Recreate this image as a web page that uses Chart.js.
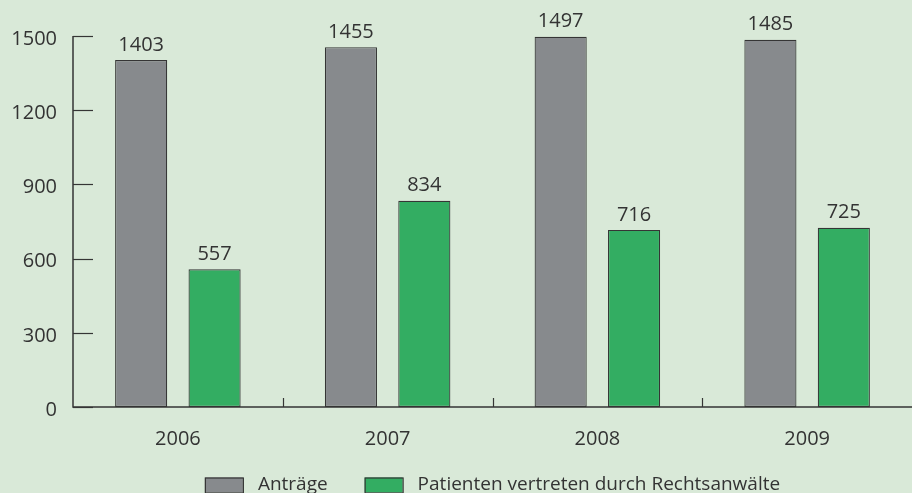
<!DOCTYPE html>
<html>
<head>
<meta charset="utf-8">
<script src="https://cdn.jsdelivr.net/npm/chart.js@4.4.1/dist/chart.umd.min.js"></script>
<style>
  html, body { margin: 0; padding: 0; background: #d9e9d8; }
  #wrap { width: 912px; height: 493px; position: relative; }
</style>
</head>
<body>
<div id="wrap"><canvas id="c" width="912" height="493"></canvas></div>
<script>
const categories = ['2006', '2007', '2008', '2009'];
const antraege = [1403, 1455, 1497, 1485];
const patienten = [557, 834, 716, 725];
const seriesNames = ['Anträge', 'Patienten vertreten durch Rechtsanwälte'];
const yTicks = [0, 300, 600, 900, 1200, 1500];

const FONT = '"Open Sans", "Noto Sans", sans-serif';
const TEXT = '#333333';
const LINE = '#353535';

const customDraw = {
  id: 'customDraw',
  afterDatasetsDraw(chart) {
    const ctx = chart.ctx;
    const ca = chart.chartArea;
    const x = chart.scales.x, y = chart.scales.y;
    ctx.save();
    ctx.strokeStyle = LINE;
    ctx.lineWidth = 1.5;
    // axes
    ctx.beginPath();
    ctx.moveTo(ca.left, ca.top);
    ctx.lineTo(ca.left, ca.bottom);
    ctx.lineTo(ca.right, ca.bottom);
    ctx.stroke();
    // y ticks inward
    ctx.lineWidth = 1.2;
    yTicks.forEach(v => {
      const py = Math.round(y.getPixelForValue(v)) + 0.5;
      ctx.beginPath();
      ctx.moveTo(ca.left, py);
      ctx.lineTo(ca.left + 20, py);
      ctx.stroke();
    });
    // x category boundary ticks
    for (let i = 1; i < categories.length; i++) {
      const px = Math.round((x.getPixelForValue(i - 1) + x.getPixelForValue(i)) / 2) + 0.5;
      ctx.beginPath();
      ctx.moveTo(px, ca.bottom);
      ctx.lineTo(px, ca.bottom - 9);
      ctx.stroke();
    }
    // value labels
    ctx.fillStyle = TEXT;
    ctx.font = '20px ' + FONT;
    ctx.textAlign = 'center';
    ctx.textBaseline = 'bottom';
    chart.data.datasets.forEach((ds, di) => {
      const meta = chart.getDatasetMeta(di);
      meta.data.forEach((bar, i) => {
        ctx.fillText(String(ds.data[i]), bar.x, bar.y - 5);
      });
    });
    // legend
    ctx.font = '19px ' + FONT;
    ctx.textAlign = 'left';
    ctx.textBaseline = 'middle';
    const boxW = 38, boxH = 15, gapTxt = 15, gapItem = 37;
    const items = chart.data.datasets.map(ds => ({
      label: ds.label, color: ds.backgroundColor, w: ctx.measureText(ds.label).width
    }));
    let total = 0;
    items.forEach((it, i) => { total += boxW + gapTxt + it.w + (i ? gapItem : 0); });
    let lx = (ca.left + ca.right) / 2 - total / 2;
    const ly = 485;
    items.forEach(it => {
      ctx.fillStyle = it.color;
      ctx.fillRect(lx, ly - boxH / 2, boxW, boxH);
      ctx.strokeStyle = LINE;
      ctx.lineWidth = 1.2;
      ctx.strokeRect(lx + 0.5, ly - boxH / 2 + 0.5, boxW, boxH);
      ctx.fillStyle = TEXT;
      ctx.fillText(it.label, lx + boxW + gapTxt, ly);
      lx += boxW + gapTxt + it.w + gapItem;
    });
    ctx.restore();
  }
};

new Chart(document.getElementById('c'), {
  type: 'bar',
  data: {
    labels: categories,
    datasets: [
      { label: seriesNames[0], data: antraege, backgroundColor: '#878a8d', borderColor: '#353535', borderWidth: 1.2, borderSkipped: false },
      { label: seriesNames[1], data: patienten, backgroundColor: '#33ad62', borderColor: '#353535', borderWidth: 1.2, borderSkipped: false }
    ]
  },
  plugins: [customDraw],
  options: {
    responsive: false,
    animation: false,
    events: [],
    layout: { padding: { top: 36, right: 0, bottom: 36, left: 0 } },
    categoryPercentage: 0.7,
    barPercentage: 0.71,
    plugins: { legend: { display: false }, tooltip: { enabled: false } },
    scales: {
      x: {
        grid: { display: false, drawTicks: false },
        border: { display: false },
        ticks: { color: TEXT, font: { family: FONT, size: 20 }, padding: 20 },
        afterFit(s) { s.height = 50; }
      },
      y: {
        min: 0, max: 1500,
        grid: { display: false, drawTicks: false },
        border: { display: false },
        afterBuildTicks(s) { s.ticks = yTicks.map(v => ({ value: v })); },
        ticks: { color: TEXT, font: { family: FONT, size: 20 }, padding: 16, labelOffset: 3, callback: v => String(v) },
        afterFit(s) { s.width = 73; }
      }
    }
  }
});
</script>
</body>
</html>
